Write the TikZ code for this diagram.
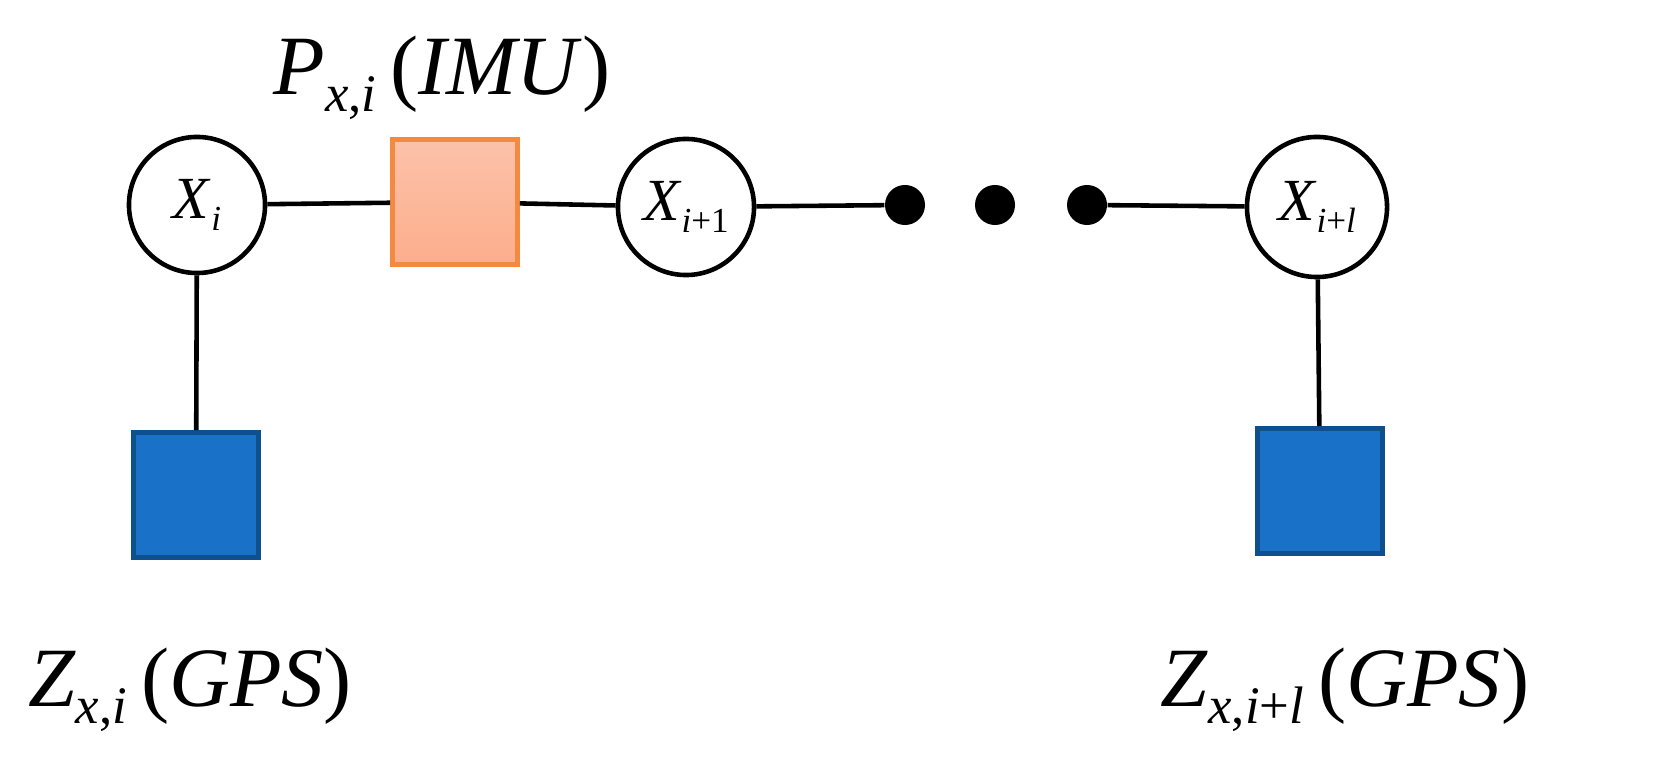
\documentclass[tikz,border=0pt]{standalone}
\usepackage{fontspec}
\setmainfont{Liberation Serif}
\newcommand{\sbx}[2][10pt]{\raisebox{-0.45ex}{\fontsize{#1}{#1}\selectfont #2}}
\definecolor{blueF}{HTML}{1A72C8}
\definecolor{blueD}{HTML}{0E4F8E}
\definecolor{orB}{HTML}{F48A40}
\definecolor{orT}{HTML}{FCC2AA}
\definecolor{orBt}{HTML}{FCAE8C}
\begin{document}
\begin{tikzpicture}[x=0.01cm,y=-0.01cm,
  var/.style={circle,draw,line width=1.3pt,minimum size=1.36cm,inner sep=0pt,font=\fontsize{17pt}{17pt}\selectfont},
  gps/.style={rectangle,draw=blueD,fill=blueF,line width=1.3pt,minimum size=1.25cm,inner sep=0pt},
  imu/.style={rectangle,draw=orB,top color=orT,bottom color=orBt,line width=1.3pt,minimum size=1.25cm,inner sep=0pt},
  dot/.style={circle,fill=black,minimum size=0.4cm,inner sep=0pt},
  lbl/.style={font=\fontsize{24pt}{24pt}\selectfont},
  edge/.style={line width=1.3pt}]
\useasboundingbox (0,0) rectangle (1676,758);
\node[var] (xi) at (197,205) {\textit{X}\sbx{\textit{i}}};
\node[var] (xi1) at (686,207) {\textit{X}\sbx{\textit{i}+1}};
\node[var,minimum size=1.4cm] (xil) at (1317,207) {\textit{X}\sbx{\textit{i}+\textit{l}}};
\node[imu] (p) at (455,202) {};
\node[dot] (d1) at (905,205) {};
\node[dot] (d2) at (995,205) {};
\node[dot] (d3) at (1087,205) {};
\node[gps] (z1) at (196,495) {};
\node[gps] (z2) at (1320,491) {};
\draw[edge] (xi) -- (p);
\draw[edge] (p) -- (xi1);
\draw[edge] (xi1) -- (d1);
\draw[edge] (d3) -- (xil);
\draw[edge] (xi) -- (z1);
\draw[edge] (xil) -- (z2);
\node[lbl] (lp) at (442,78) {\textit{P}\sbx[15pt]{\textit{x},\textit{i}}\,(\textit{IMU})};
\node[lbl] (lz1) at (190,690) {\textit{Z}\sbx[15pt]{\textit{x},\textit{i}}\,(\textit{GPS})};
\node[lbl] (lz2) at (1345,690) {\textit{Z}\sbx[15pt]{\textit{x},\textit{i}+\textit{l}}\,(\textit{GPS})};
\end{tikzpicture}
\end{document}
